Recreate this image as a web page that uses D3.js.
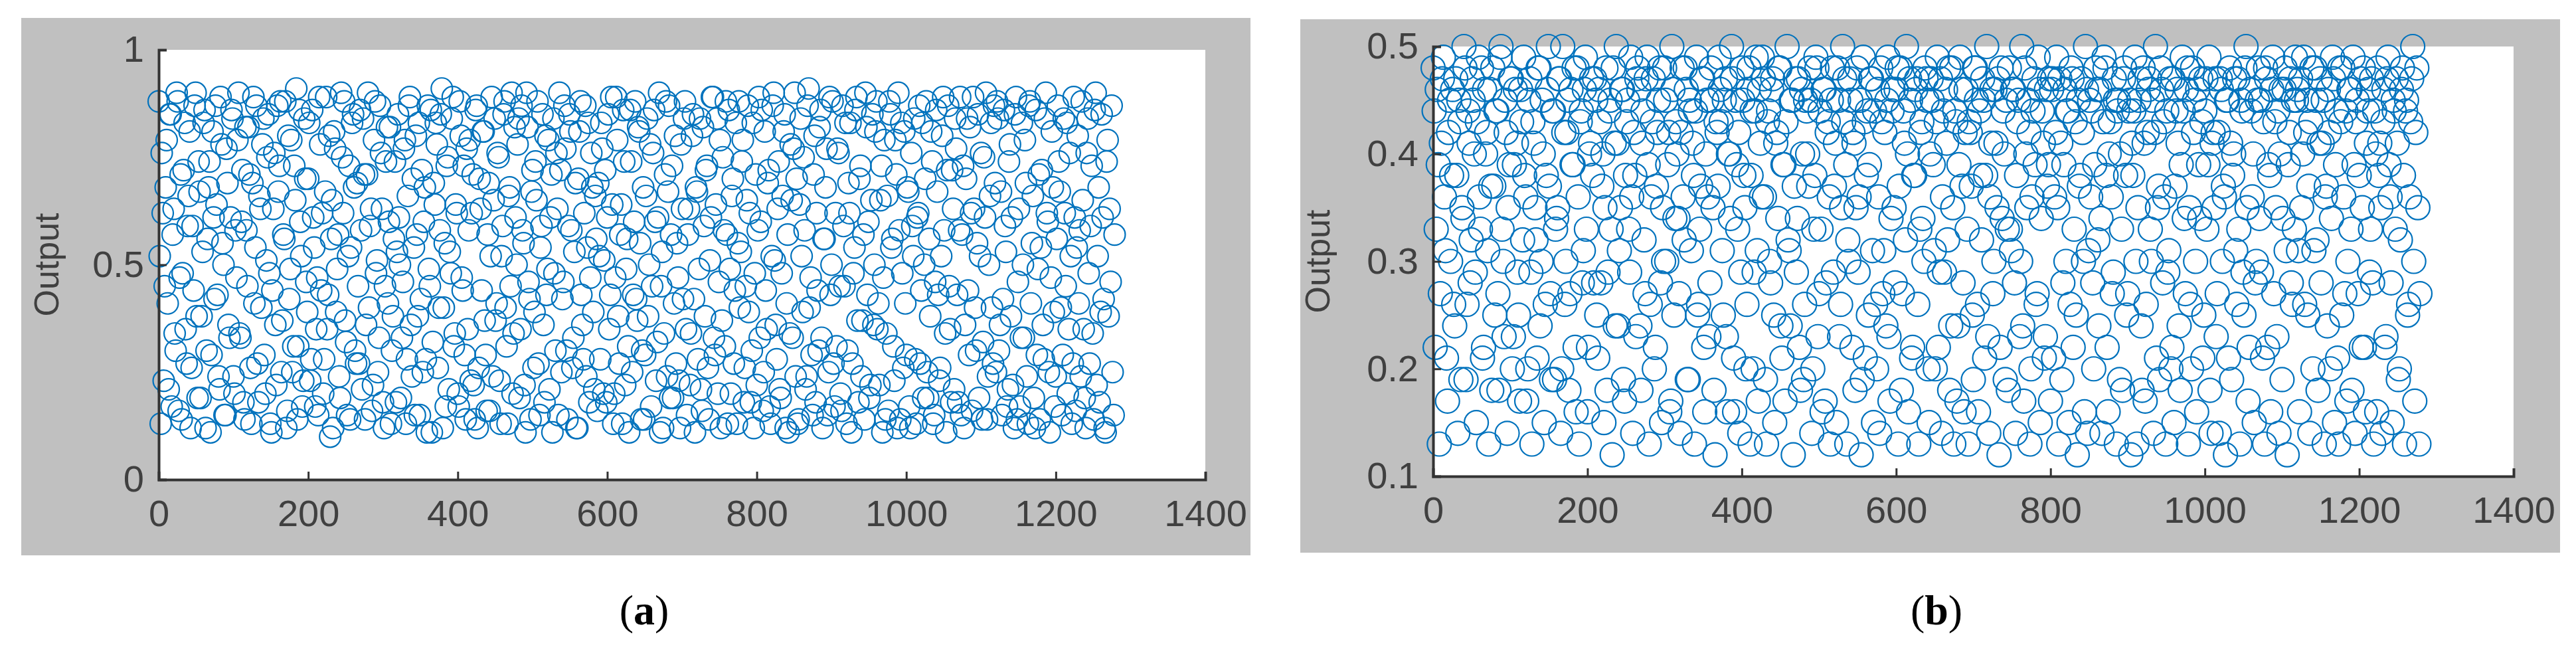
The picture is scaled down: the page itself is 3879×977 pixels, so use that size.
<!DOCTYPE html>
<html>
<head>
<meta charset="utf-8">
<script src="https://cdn.jsdelivr.net/npm/d3@7"></script>
<style>
  body { margin: 0; background: #fff; }
  svg text { font-family: "Liberation Sans", Arial, sans-serif; }
  svg text.caption { font-family: "Liberation Serif", "DejaVu Serif", serif; }
</style>
</head>
<body>
<svg id="chart" width="3879" height="977"></svg>
<script>
// 1280 samples per run; each series is spread over the sample range, outputs in hundredths
var sampleMax = 1280;

var outputA = [
88,13,62,45,79,21,85,57,34,90,16,71,48,83,27,66,12,59,87,38,
74,19,53,86,30,68,11,81,42,64,24,89,55,15,77,36,61,84,20,47,
90,33,72,14,58,82,26,69,41,87,18,63,78,29,51,85,13,44,76,22,
67,88,37,56,12,80,49,25,73,91,31,60,17,84,46,70,23,86,54,35,
15,78,62,28,89,43,10,65,81,39,57,19,75,88,32,52,14,83,68,27,
45,86,21,71,36,90,59,16,79,48,25,87,63,12,74,41,82,30,56,18,
85,50,33,77,13,66,89,24,54,80,38,15,72,60,28,87,45,11,69,83,
26,58,91,40,17,75,53,84,31,64,20,88,47,73,14,35,79,62,22,86,
12,70,44,81,29,57,16,89,65,37,76,23,52,85,40,13,68,90,34,61,
78,19,87,55,11,82,42,67,26,74,88,15,59,36,80,49,21,71,84,30,
63,90,25,46,77,14,85,58,33,69,12,81,43,28,87,54,18,76,39,66,
16,52,83,20,72,61,35,89,13,47,79,27,64,86,22,56,11,74,43,88,
37,81,14,68,29,84,50,17,76,60,32,90,45,12,71,24,87,57,19,80,
55,23,78,42,88,15,63,34,85,11,67,49,21,82,38,73,14,61,89,29,
84,46,12,75,31,57,86,20,70,44,13,88,53,79,26,65,39,18,83,48,
22,89,60,16,81,35,72,13,87,51,28,74,19,66,85,41,11,78,33,90,
70,14,84,39,58,24,91,47,15,80,62,30,86,12,56,77,25,43,88,17,
31,76,20,87,45,13,69,83,27,54,89,18,73,37,14,82,60,22,85,50,
88,41,65,11,79,34,16,85,56,23,71,90,14,48,81,29,67,12,59,84,
13,62,27,83,50,88,19,38,74,15,86,43,26,80,58,11,87,35,72,21,
77,18,89,57,12,70,44,82,16,63,30,85,52,14,75,90,24,66,40,87,
25,84,36,15,86,53,21,78,61,12,89,46,17,83,33,69,13,88,55,19,
86,49,14,72,28,90,60,11,81,39,24,87,67,15,84,45,20,76,13,89,
16,80,58,88,35,12,84,27,73,14,90,52,18,85,42,11,79,63,87,15
];

var outputA2 = [
52,76,23,68,41,85,17,63,30,88,47,14,72,35,59,81,26,44,90,19,
67,38,83,12,56,74,29,61,87,43,21,78,50,15,69,33,86,24,58,79,
34,60,18,82,45,71,13,89,54,27,66,40,84,20,75,48,11,63,36,87,
73,25,57,88,16,42,79,31,65,14,86,52,23,70,39,83,28,61,17,47,
89,44,20,67,35,80,56,12,77,49,24,90,62,37,15,73,54,85,30,69,
27,58,84,14,71,40,63,22,88,51,33,76,18,45,82,60,13,38,74,53,
61,19,46,79,28,87,36,70,15,57,83,42,25,68,11,49,86,32,64,78,
40,85,12,55,73,21,48,89,34,62,17,80,44,29,77,58,23,71,14,87,
26,63,81,37,16,69,52,24,84,41,75,13,59,88,31,66,45,20,82,50,
84,35,58,22,90,46,14,72,39,65,27,54,85,18,43,79,61,11,48,76,
15,72,42,87,30,59,81,26,53,12,70,88,36,62,24,83,47,68,21,56,
69,28,77,51,18,85,43,64,20,89,38,57,13,74,49,31,86,25,60,42,
82,55,30,14,66,38,78,45,86,23,61,11,53,34,88,67,19,73,41,27,
47,12,63,84,35,57,22,80,42,68,28,84,16,59,72,26,51,89,33,64,
20,79,37,58,88,13,49,66,27,83,55,40,74,18,45,87,62,30,12,71,
58,33,86,25,44,69,17,52,90,36,63,21,48,81,12,57,34,65,77,24,
13,64,52,75,21,87,40,29,71,18,44,82,33,56,68,15,89,50,27,62,
77,45,16,59,83,30,62,11,48,86,37,70,24,57,90,43,19,65,36,81,
35,22,73,47,14,66,88,54,31,79,12,58,83,26,41,68,17,76,52,28,
61,87,44,19,70,25,56,81,13,46,67,23,52,89,34,72,45,18,63,84,
43,58,15,73,36,84,29,62,89,40,55,19,76,32,61,14,50,83,27,69,
88,30,67,42,59,17,74,38,22,85,14,63,33,50,79,24,87,41,66,12,
29,71,54,36,84,62,25,47,68,17,56,74,40,29,62,83,35,52,27,61,
54,41,24,65,19,76,48,59,34,86,22,68,39,61,12,74,38,46,25,57
];

var outputB = [
48,22,46,13,41,49,31,17,45,38,26,47,14,43,35,50,19,44,28,47,
40,15,49,33,21,46,42,13,37,48,25,44,18,50,30,45,14,39,47,23,
46,29,17,43,49,36,20,47,13,41,32,48,24,45,15,38,50,27,44,19,
34,47,14,50,26,42,18,46,39,22,48,13,44,31,49,16,40,47,28,45,
21,43,37,15,48,29,45,12,41,50,24,35,46,17,43,33,49,14,38,47,
46,18,44,27,49,13,36,47,22,42,48,15,30,45,39,16,50,25,43,34,
14,48,32,46,19,44,41,13,49,26,37,47,16,45,23,48,35,12,42,49,
43,25,47,16,40,50,21,45,33,14,48,38,20,46,13,44,29,49,17,41,
49,36,13,44,28,47,15,42,48,24,39,17,50,31,45,12,47,34,22,46,
19,45,40,48,14,33,49,23,44,16,46,28,43,13,48,37,15,45,26,50,
47,13,30,45,42,18,48,36,12,49,21,44,39,47,15,26,46,14,43,31,
24,49,17,44,35,46,13,48,27,41,50,16,45,22,38,47,13,42,34,48,
45,15,47,39,20,49,29,14,44,46,32,18,48,13,43,24,49,37,16,46,
13,42,25,48,45,16,38,47,21,50,14,41,27,46,35,12,48,44,19,33,
48,31,46,14,43,23,50,17,40,45,13,36,47,26,49,15,44,21,46,39,
17,47,36,49,13,41,28,46,44,15,48,22,43,12,37,47,30,50,14,45,
44,20,48,32,46,14,49,38,16,43,27,47,13,45,40,18,48,25,44,12,
38,49,13,45,24,48,17,42,47,30,14,50,35,19,46,43,13,29,47,22,
15,44,41,18,49,34,46,13,26,48,45,16,39,47,21,44,33,49,14,42,
47,27,14,46,37,12,45,48,19,40,31,47,13,44,25,50,17,46,36,15,
30,48,45,21,13,47,39,16,49,43,23,14,46,34,48,12,42,28,45,49,
46,16,35,49,42,25,14,48,31,45,18,47,41,13,37,46,20,49,15,44,
13,43,48,27,17,46,33,49,14,45,38,22,48,16,44,29,47,13,40,48,
41,14,46,23,49,36,15,44,47,19,32,48,13,45,26,43,50,17,48,13
];

var outputB2 = [
44,33,39,27,47,36,21,42,30,46,24,38,45,19,34,48,26,41,32,45,
29,43,36,48,22,40,31,46,18,37,44,27,49,33,23,42,35,47,20,39,
41,25,46,32,38,17,45,29,43,35,21,48,30,40,26,46,37,19,44,33,
35,47,20,42,30,45,27,39,48,16,36,43,28,46,33,22,41,38,47,25,
46,28,40,35,18,44,33,48,24,41,31,46,19,38,45,29,36,42,23,48,
24,41,32,47,39,26,43,20,37,45,28,35,48,30,42,17,46,34,40,27,
42,36,48,19,45,31,38,44,25,33,47,22,40,36,28,45,18,43,37,46,
31,45,23,40,34,47,16,39,42,29,45,35,26,48,38,20,44,31,46,36,
47,19,43,30,46,25,41,34,48,21,39,43,32,24,45,37,29,47,18,40,
26,44,37,45,20,38,48,27,33,46,17,42,36,45,29,41,48,23,35,43,
39,32,47,22,41,35,29,45,19,43,38,25,47,31,44,20,36,48,27,42,
45,23,34,46,28,48,37,18,44,32,40,47,21,38,46,26,33,43,30,47,
20,40,45,31,43,22,47,36,29,41,48,24,35,44,17,39,46,28,42,33,
43,37,19,48,26,44,32,45,38,23,36,46,30,41,47,22,34,40,45,18,
33,46,28,38,45,30,24,48,35,42,20,44,39,27,46,34,41,23,37,47,
46,21,42,35,47,19,39,30,44,26,47,33,25,45,38,42,16,46,31,36,
28,39,46,24,34,43,48,22,40,36,29,45,44,19,33,47,38,27,45,41,
44,30,35,47,18,41,26,46,33,45,42,21,37,48,28,36,44,31,20,47,
37,46,24,39,44,27,48,35,20,42,30,46,34,43,25,47,39,18,41,35,
23,42,47,30,36,45,21,41,38,47,26,33,45,29,48,35,22,44,40,28,
45,34,29,43,48,22,38,46,27,35,44,40,19,46,31,39,47,26,33,45,
31,47,40,26,45,37,43,20,48,32,41,28,45,36,24,42,34,47,39,21,
48,25,36,44,30,46,18,39,43,27,47,35,22,41,46,33,28,44,16,38,
35,43,22,47,39,28,45,33,41,20,46,38,44,25,36,47,30,42,35,27
];

var xTicks = [0, 200, 400, 600, 800, 1000, 1200, 1400];
var yTicksA = [0, 50, 100];
var yTicksB = [10, 20, 30, 40, 50];

var svg = d3.select("#chart");

var panels = [
  {series: [outputA, outputA2], yDomain: [0, 100], yTicks: yTicksA, r: 16, caption: "a",
   box: [32, 27, 1883, 836], plot: [239, 75, 1815, 722], capX: 970, labelX: 88},
  {series: [outputB, outputB2], yDomain: [10, 50], yTicks: yTicksB, r: 18, caption: "b",
   box: [1958, 29, 3855, 832], plot: [2158, 70, 3785, 717], capX: 2916, labelX: 2002}
];

panels.forEach(drawPanel);

function drawPanel(p) {
  var g = svg.append("g");

  g.append("rect")
    .attr("x", p.box[0]).attr("y", p.box[1])
    .attr("width", p.box[2] - p.box[0]).attr("height", p.box[3] - p.box[1])
    .attr("fill", "#c0c0c0");

  g.append("rect")
    .attr("x", p.plot[0]).attr("y", p.plot[1])
    .attr("width", p.plot[2] - p.plot[0]).attr("height", p.plot[3] - p.plot[1])
    .attr("fill", "#fff");

  var x = d3.scaleLinear().domain([0, 1400]).range([p.plot[0], p.plot[2]]);
  var y = d3.scaleLinear().domain(p.yDomain).range([p.plot[3], p.plot[1]]);

  p.series.forEach(function(data, k) {
    var step = sampleMax / data.length;
    g.append("g").selectAll("circle")
      .data(data)
      .join("circle")
      .attr("cx", function(d, i) { return x((i + k * 0.5) * step); })
      .attr("cy", function(d) { return y(d); })
      .attr("r", p.r)
      .attr("fill", "none")
      .attr("stroke", "#0072bd")
      .attr("stroke-width", 2.2);
  });

  var xAxis = g.append("g")
    .attr("transform", "translate(0," + p.plot[3] + ")")
    .call(d3.axisBottom(x).tickValues(xTicks).tickSize(-12).tickPadding(30)
      .tickFormat(d3.format("d")));
  var yAxis = g.append("g")
    .attr("transform", "translate(" + p.plot[0] + ",0)")
    .call(d3.axisLeft(y).tickValues(p.yTicks).tickSize(-12).tickPadding(22)
      .tickFormat(function(d) { return d3.format("")(d / 100); }));

  [xAxis, yAxis].forEach(function(a) {
    a.select(".domain").attr("stroke", "#333").attr("stroke-width", 4);
    a.selectAll(".tick line").attr("stroke", "#333").attr("stroke-width", 3);
    a.selectAll("text").attr("font-size", 56).attr("fill", "#404040");
  });
  xAxis.selectAll("text").attr("dy", "0.72em");

  g.append("text")
    .attr("transform", "translate(" + p.labelX + "," + ((p.plot[1] + p.plot[3]) / 2) + ") rotate(-90)")
    .attr("text-anchor", "middle")
    .attr("font-size", 52)
    .attr("fill", "#404040")
    .text("Output");

  var cap = g.append("text")
    .attr("class", "caption")
    .attr("x", p.capX).attr("y", 940)
    .attr("text-anchor", "middle")
    .attr("font-size", 64)
    .attr("fill", "#000");
  cap.append("tspan").text("(");
  cap.append("tspan").attr("font-weight", "bold").text(p.caption);
  cap.append("tspan").text(")");
}
</script>
</body>
</html>
